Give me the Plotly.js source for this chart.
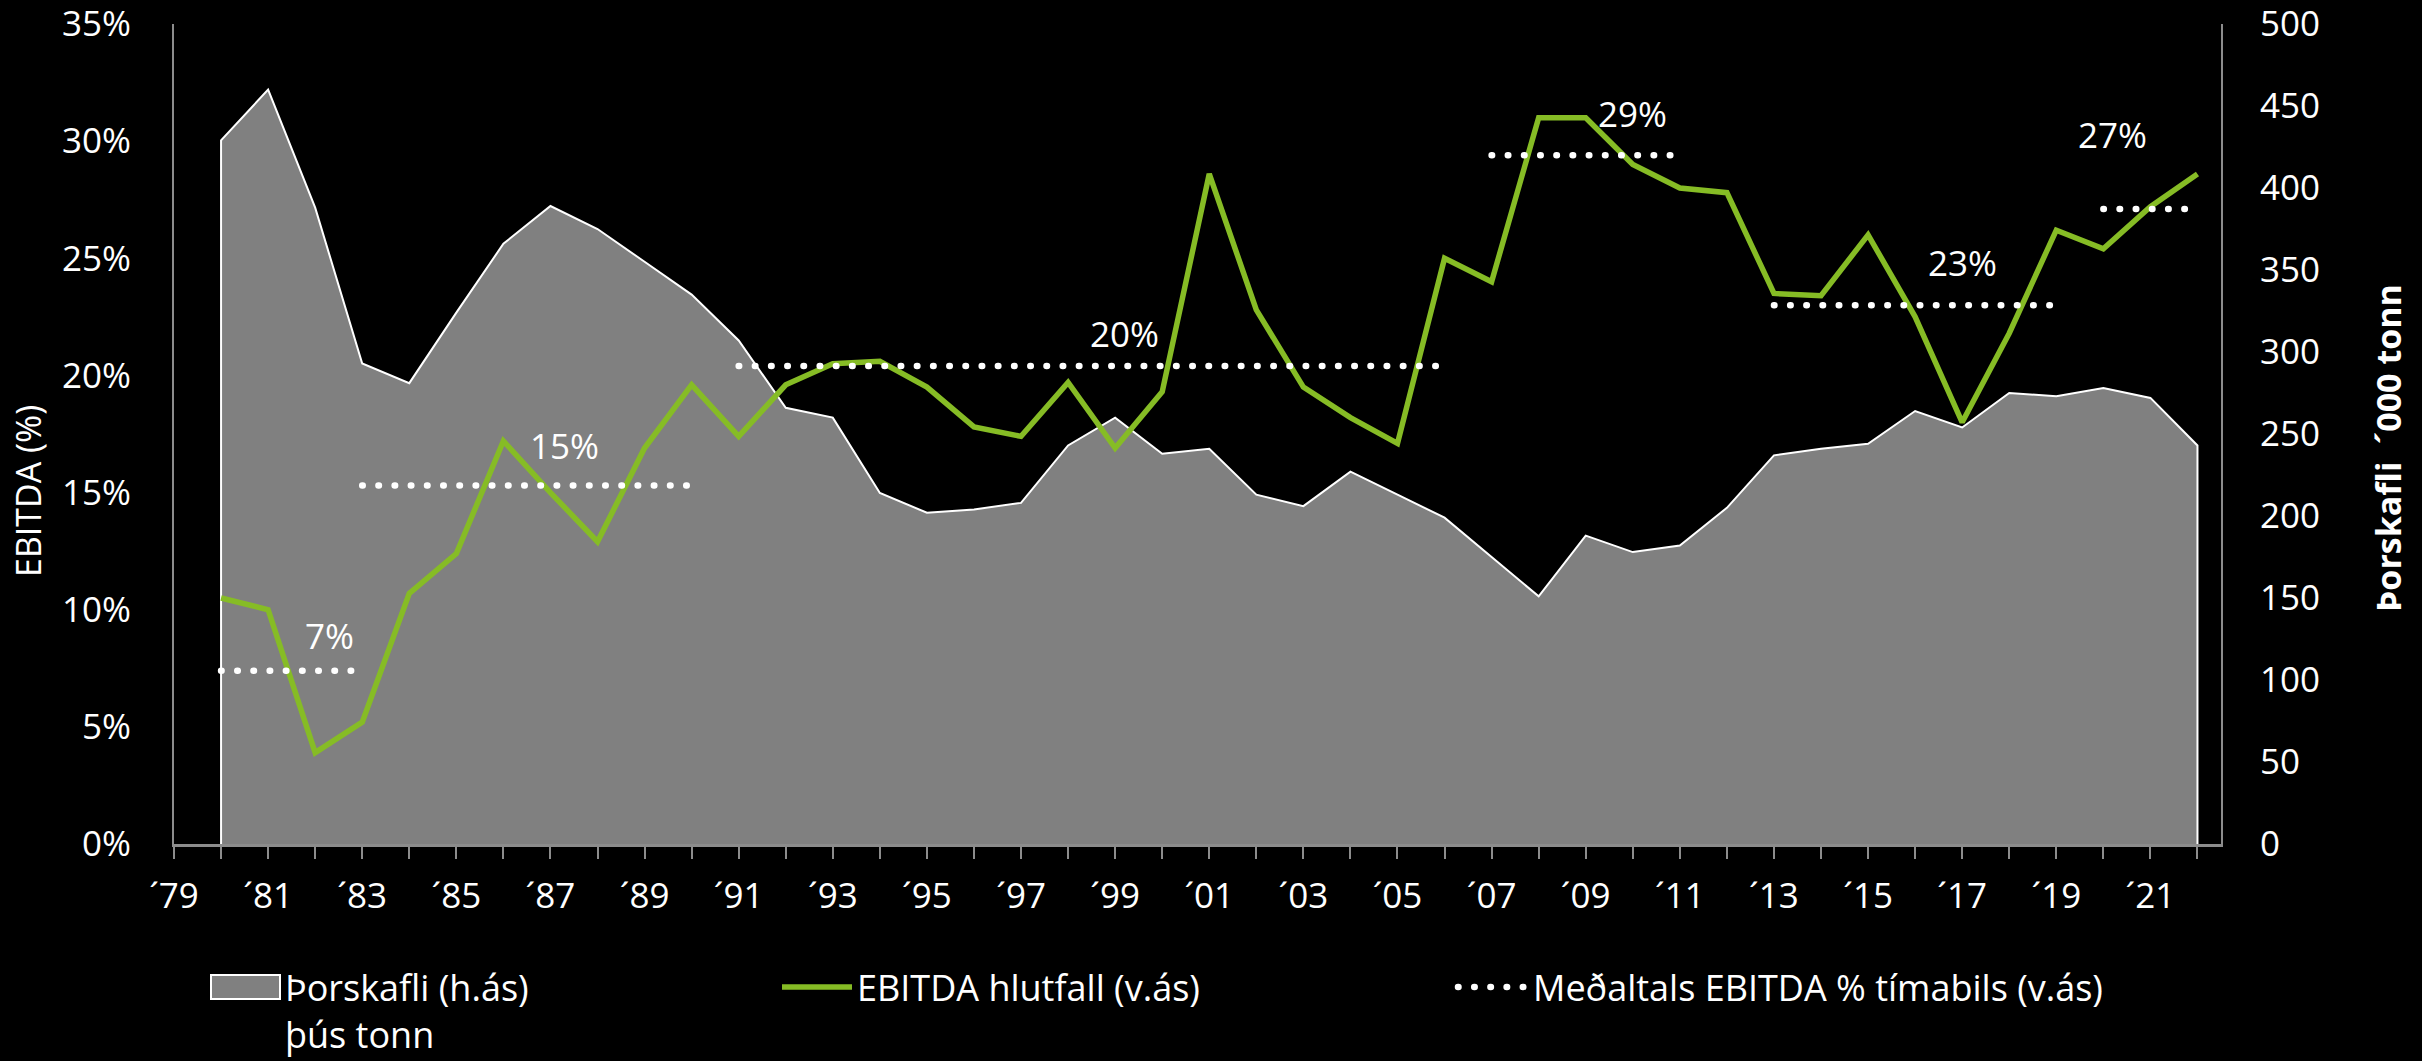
<!DOCTYPE html>
<html>
<head>
<meta charset="utf-8">
<script src="https://cdn.plot.ly/plotly-3.0.1.min.js"></script>
<style>
html,body{margin:0;padding:0;background:#000;}
#chart{width:2422px;height:1061px;}
</style>
</head>
<body>
<div id="chart"></div>
<script>
// ---- data ----
const years = [1980,1981,1982,1983,1984,1985,1986,1987,1988,1989,1990,1991,1992,1993,1994,1995,1996,1997,1998,1999,2000,2001,2002,2003,2004,2005,2006,2007,2008,2009,2010,2011,2012,2013,2014,2015,2016,2017,2018,2019,2020,2021,2022];
// Þorskafli, þús. tonn (right axis)
const codCatch = [429,460,388,293,281,324,366,389,375,355,335,307,266,260,214,202,204,208,243,260,238,241,213,206,227,213,199,175,151,188,178,182,205,237,241,244,264,254,275,273,278,272,243];
// EBITDA hlutfall, % (left axis)
const ebitdaPct = [10.5,10.0,3.9,5.2,10.7,12.4,17.2,15.0,12.9,16.9,19.6,17.4,19.6,20.5,20.6,19.5,17.8,17.4,19.7,16.9,19.3,28.6,22.8,19.5,18.2,17.1,25.0,24.0,31.0,31.0,29.0,28.0,27.8,23.5,23.4,26.0,22.5,18.0,21.8,26.2,25.4,27.2,28.6];
// Meðaltals EBITDA % tímabils
const periodStart = [1980,1983,1991,2007,2013,2020];
const periodEnd   = [1983,1990,2006,2011,2019,2022];
const periodAvg   = [7.4,15.3,20.4,29.4,23.0,27.1];
const periodLabels = ['7%','15%','20%','29%','23%','27%'];
// tick labels
const xTickYears  = [1979,1981,1983,1985,1987,1989,1991,1993,1995,1997,1999,2001,2003,2005,2007,2009,2011,2013,2015,2017,2019,2021];
const xTickLabels = ['´79','´81','´83','´85','´87','´89','´91','´93','´95','´97','´99','´01','´03','´05','´07','´09','´11','´13','´15','´17','´19','´21'];
const leftTickVals = [0,5,10,15,20,25,30,35];
const rightTickVals = [0,50,100,150,200,250,300,350,400,450,500];

// ---- layout helpers (positions, not data) ----
const labelPos = [[1982.3,8.9],[1987.3,17.0],[1999.2,21.8],[2010.0,31.2],[2017.0,24.8],[2020.2,30.3]];

const font = "'Open Sans', 'Noto Sans', sans-serif";

// closed polygon for the area so its outline includes the side edges
const areaX = [years[0]].concat(years, [years[years.length-1]]);
const areaY = [0].concat(codCatch, [0]);

// dotted average segments, separated by gaps
const avgX = [], avgY = [];
periodStart.forEach((s,i) => { avgX.push(s, periodEnd[i], null); avgY.push(periodAvg[i], periodAvg[i], null); });

const data = [
  {type:'scatter', mode:'lines', x:areaX, y:areaY, fill:'toself', fillcolor:'#808080',
   line:{color:'#ffffff', width:2}, name:'Þorskafli (h.ás)<br>þús tonn', yaxis:'y', legend:'legend', hoverinfo:'skip'},
  {type:'scatter', mode:'lines', x:years, y:ebitdaPct, line:{color:'#86BC25', width:5.5},
   name:'EBITDA hlutfall (v.ás)', yaxis:'y2', legend:'legend2'},
  {type:'scatter', mode:'lines', x:avgX, y:avgY, connectgaps:false,
   line:{color:'#ffffff', width:6.5, dash:'0.5px,15.7px'},
   name:'Meðaltals EBITDA % tímabils (v.ás)', yaxis:'y2', legend:'legend3'}
];

const annotations = periodLabels.map((t,i) => ({
  text:t, x:labelPos[i][0], y:labelPos[i][1], xref:'x', yref:'y2', showarrow:false,
  xanchor:'center', yanchor:'middle',
  font:{family:font, size:35, color:'#ffffff'}
}));
annotations.push({text:'EBITDA (%)', xref:'paper', yref:'paper', x:(28-174)/2047, y:(844-491)/820,
  xanchor:'center', yanchor:'middle',
  textangle:-90, showarrow:false, font:{family:font, size:34, color:'#ffffff'}});
annotations.push({text:'Þorskafli  ´000 tonn', xref:'paper', yref:'paper', x:(2388-174)/2047, y:(844-448)/820,
  xanchor:'center', yanchor:'middle',
  textangle:-90, showarrow:false, font:{family:font, size:34, color:'#ffffff', weight:'bold'}});

const legendBase = {orientation:'h', xanchor:'left', yanchor:'top', bgcolor:'rgba(0,0,0,0)',
  font:{family:font, size:36, color:'#ffffff'}, itemwidth:70, valign:'top', tracegroupgap:0};
const legendTop = (844-957)/820;

const tickFont = {family:font, size:35, color:'#ffffff'};

const layout = {
  width:2422, height:1061,
  paper_bgcolor:'#000000', plot_bgcolor:'#000000',
  margin:{l:174, r:201, t:24, b:217, pad:0, autoexpand:false},
  showlegend:true,
  xaxis:{range:[1979,2022.5], tickmode:'array', tickvals:xTickYears, ticktext:xTickLabels,
    ticks:'outside', ticklen:12, tickwidth:2, tickcolor:'#8c8c8c',
    minor:{tick0:1979, dtick:1, ticks:'outside', ticklen:12, tickwidth:2, tickcolor:'#8c8c8c'},
    showline:true, linecolor:'#8c8c8c', linewidth:3, showgrid:false, zeroline:false,
    tickfont:tickFont, ticklabelstandoff:7, automargin:false},
  yaxis:{range:[0,500], side:'right', tickmode:'array', tickvals:rightTickVals,
    ticktext:rightTickVals.map(String), ticklabeloverflow:'allow',
    showline:true, linecolor:'#8c8c8c', linewidth:2, showgrid:false, zeroline:false, ticks:'',
    tickfont:tickFont, ticklabelstandoff:30, automargin:false},
  yaxis2:{range:[0,35], side:'left', overlaying:'y', tickmode:'array', tickvals:leftTickVals,
    ticktext:leftTickVals.map(v => v + '%'), ticklabeloverflow:'allow',
    showline:true, linecolor:'#8c8c8c', linewidth:2, showgrid:false, zeroline:false, ticks:'',
    tickfont:tickFont, ticklabelstandoff:34, automargin:false},
  legend: Object.assign({}, legendBase, {x:(205-174)/2047, y:legendTop}),
  legend2: Object.assign({}, legendBase, {x:(777-174)/2047, y:legendTop}),
  legend3: Object.assign({}, legendBase, {x:(1453-174)/2047, y:legendTop}),
  annotations: annotations
};

Plotly.newPlot('chart', data, layout, {staticPlot:true, displayModeBar:false}).then(gd => {
  // round dots for the average line (plot + legend)
  gd.querySelectorAll('path').forEach(p => {
    if ((p.style.strokeDasharray || '').indexOf('15.7') >= 0) p.style.strokeLinecap = 'round';
  });
  // legend swatch of the area: a filled box with white outline
  const lg = gd.querySelector('g.legend');
  if (lg) {
    lg.querySelectorAll('.legendlines path').forEach(p => { p.style.display = 'none'; });
    let fp = lg.querySelector('.legendfill path');
    if (!fp) {
      const pts = lg.querySelector('.legendpoints') || lg.querySelector('.traces');
      fp = document.createElementNS('http://www.w3.org/2000/svg', 'path');
      if (pts) pts.insertBefore(fp, pts.firstChild);
    }
    fp.setAttribute('d', 'M6,-12h69v24h-69z');
    fp.style.fill = '#808080';
    fp.style.fillOpacity = '1';
    fp.style.stroke = '#ffffff';
    fp.style.strokeWidth = '2px';
    fp.style.display = '';
  }
});
</script>
</body>
</html>
